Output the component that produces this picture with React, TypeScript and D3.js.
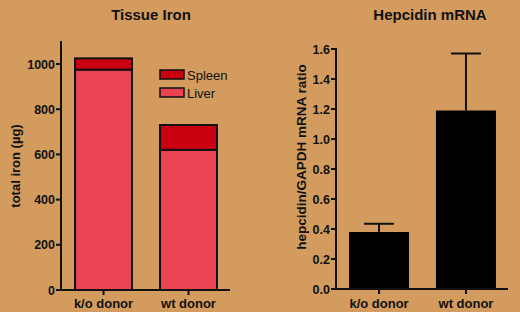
import React from "react";
import * as d3 from "d3";

const groups = ["k/o donor", "wt donor"];
const liverIron = [975, 620];
const spleenIron = [50, 110];
const ironTicks = [0, 200, 400, 600, 800, 1000];

const hepcidinMean = [0.38, 1.19];
const hepcidinErr = [0.055, 0.38];
const hepTicks = [0, 0.2, 0.4, 0.6, 0.8, 1.0, 1.2, 1.4, 1.6];

const BG = "#D39C5E";
const LIVER = "#EA4453";
const SPLEEN = "#C9000F";
const FONT = "'Liberation Sans', Arial, sans-serif";

export default function App() {
  // Left chart
  const yL = d3.scaleLinear().domain([0, 1000]).range([290, 64]);
  const xL = d3.scaleBand().domain(groups).range([61, 231]).paddingInner(0.33).paddingOuter(0.165);
  // Right chart
  const yR = d3.scaleLinear().domain([0, 1.6]).range([289, 49]);
  const xR = d3.scaleBand().domain(groups).range([336, 509]).paddingInner(0.31).paddingOuter(0.15);

  const tickStyle = { fontFamily: FONT, fontWeight: 700, fontSize: 12.5, fill: "#111" } as const;
  const titleStyle = { fontFamily: FONT, fontWeight: 700, fontSize: 15, fill: "#111" } as const;

  return (
    <svg width={520} height={312} style={{ position: "absolute", left: 0, top: 0, background: BG }}>
      <rect x={0} y={0} width={520} height={312} fill={BG} />
      {/* Left chart */}
      <text x={151} y={20} textAnchor="middle" style={titleStyle}>
        Tissue Iron
      </text>
      <text transform="translate(20,166) rotate(-90)" textAnchor="middle" style={{ ...tickStyle, fontSize: 13 }}>
        total iron (µg)
      </text>
      {groups.map((g, i) => {
        const x = xL(g)!;
        const w = xL.bandwidth();
        return (
          <g key={g}>
            <rect x={x} y={yL(liverIron[i])} width={w} height={yL(0) - yL(liverIron[i])} fill={LIVER} stroke="#111" strokeWidth={2} />
            <rect x={x} y={yL(liverIron[i] + spleenIron[i])} width={w} height={yL(liverIron[i]) - yL(liverIron[i] + spleenIron[i])} fill={SPLEEN} stroke="#111" strokeWidth={2} />
          </g>
        );
      })}
      <line x1={61} x2={61} y1={41} y2={291} stroke="#111" strokeWidth={2} />
      <line x1={60} x2={230} y1={290} y2={290} stroke="#111" strokeWidth={2} />
      {ironTicks.map((t) => (
        <g key={t}>
          <line x1={56} x2={61} y1={yL(t)} y2={yL(t)} stroke="#111" strokeWidth={2} />
          <text x={55} y={yL(t) + 4.5} textAnchor="end" style={tickStyle}>{t}</text>
        </g>
      ))}
      {groups.map((g) => {
        const cx = xL(g)! + xL.bandwidth() / 2;
        return (
          <g key={g}>
            <line x1={cx} x2={cx} y1={290} y2={295} stroke="#111" strokeWidth={2} />
            <text x={cx} y={308} textAnchor="middle" style={{ ...tickStyle, fontSize: 13 }}>{g}</text>
          </g>
        );
      })}
      {/* Legend */}
      <rect x={160} y={70} width={24} height={9} fill={SPLEEN} stroke="#111" strokeWidth={1.5} />
      <text x={187} y={79.5} style={{ fontFamily: FONT, fontSize: 13, fill: "#111" }}>Spleen</text>
      <rect x={160} y={88} width={24} height={9} fill={LIVER} stroke="#111" strokeWidth={1.5} />
      <text x={187} y={97.5} style={{ fontFamily: FONT, fontSize: 13, fill: "#111" }}>Liver</text>

      {/* Right chart */}
      <text x={430} y={20} textAnchor="middle" style={titleStyle}>
        Hepcidin mRNA
      </text>
      <text transform="translate(306,157) rotate(-90)" textAnchor="middle" style={{ ...tickStyle, fontSize: 13.5 }}>
        hepcidin/GAPDH mRNA ratio
      </text>
      {groups.map((g, i) => {
        const x = xR(g)!;
        const w = xR.bandwidth();
        const cx = x + w / 2;
        const top = yR(hepcidinMean[i]);
        const cap = yR(hepcidinMean[i] + hepcidinErr[i]);
        return (
          <g key={g}>
            <line x1={cx} x2={cx} y1={top} y2={cap} stroke="#111" strokeWidth={2} />
            <line x1={cx - 15} x2={cx + 15} y1={cap} y2={cap} stroke="#111" strokeWidth={2} />
            <rect x={x} y={top} width={w} height={yR(0) - top} fill="#000" />
          </g>
        );
      })}
      <line x1={336} x2={336} y1={48} y2={290} stroke="#111" strokeWidth={2} />
      <line x1={335} x2={508} y1={289} y2={289} stroke="#111" strokeWidth={2} />
      {hepTicks.map((t) => (
        <g key={t}>
          <line x1={331} x2={336} y1={yR(t)} y2={yR(t)} stroke="#111" strokeWidth={2} />
          <text x={330} y={yR(t) + 4.5} textAnchor="end" style={tickStyle}>{t.toFixed(1)}</text>
        </g>
      ))}
      {groups.map((g) => {
        const cx = xR(g)! + xR.bandwidth() / 2;
        return (
          <g key={g}>
            <line x1={cx} x2={cx} y1={289} y2={294} stroke="#111" strokeWidth={2} />
            <text x={cx} y={308} textAnchor="middle" style={{ ...tickStyle, fontSize: 13 }}>{g}</text>
          </g>
        );
      })}
    </svg>
  );
}
